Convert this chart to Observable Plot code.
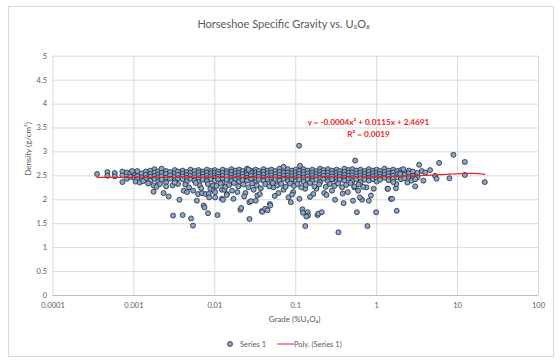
<!DOCTYPE html>
<html><head><meta charset="utf-8">
<script src="https://cdn.jsdelivr.net/npm/d3@7"></script>
<script src="https://cdn.jsdelivr.net/npm/@observablehq/plot@0.6"></script>
<style>
html,body{margin:0;padding:0;background:#fff;}
#wrap{position:relative;width:560px;height:364px;font-family:Lato,sans-serif;color:#595959;}
#border{position:absolute;left:8px;top:6px;width:546px;height:351px;border:1px solid #d9d9d9;box-sizing:border-box;}
#chart{position:absolute;left:0;top:0;}
#legend{position:absolute;left:0;top:338px;width:560px;height:12px;font-size:7.5px;}
#legend svg{position:absolute;left:0;top:0;}
</style></head><body>
<div id="wrap"><div id="border"></div><div id="chart"></div><div id="legend"></div></div>
<script>
const titleText = "Horseshoe Specific Gravity vs. U₃O₈";
const xLabel = "Grade (%U₃O₈)";
const yLabel = "Density (g/cm³)";
const eqLine1 = "y = -0.0004x² + 0.0115x + 2.4691";
const eqLine2 = "R² = 0.0019";
const legendLabels = ["Series 1", "Poly. (Series 1)"];
const xTicks = [0.0001, 0.001, 0.01, 0.1, 1, 10, 100];
const xTickLabels = ["0.0001", "0.001", "0.01", "0.1", "1", "10", "100"];
const yTicks = [0, 0.5, 1, 1.5, 2, 2.5, 3, 3.5, 4, 4.5, 5];
const yTickLabels = ["0", "0.5", "1", "1.5", "2", "2.5", "3", "3.5", "4", "4.5", "5"];
const trendCoef = [-0.0004, 0.0115, 2.4691]; // y = a x^2 + b x + c (from chart label)

// Dense main band: grade columns and the densities read in each column
const bandGrade = [
 0.00100,0.00110,0.00125,0.00140,0.00160,0.00180,0.00200,0.00220,0.00250,0.00280,
 0.00320,0.00350,0.00400,0.00450,0.00500,0.00560,0.00630,0.00710,0.00800,0.00900,
 0.0100,0.0110,0.0125,0.0140,0.0160,0.0180,0.0200,0.0220,0.0250,0.0280,
 0.0320,0.0350,0.0400,0.0450,0.0500,0.0560,0.0630,0.0710,0.0800,0.0900,
 0.100,0.110,0.125,0.140,0.160,0.180,0.200,0.220,0.250,0.280,
 0.320,0.350,0.400,0.450,0.500,0.560,0.630,0.710,0.800,0.900,
 1.00,1.10,1.25,1.40,1.60,1.80,2.00,2.20,2.50,2.80,3.20
];
const bandDensity = [
 [2.58,2.52,2.46],[2.60,2.49,2.43],[2.55,2.47,2.41],[2.59,2.52,2.45],[2.61,2.54,2.48,2.40],
 [2.64,2.57,2.50,2.44],[2.59,2.53,2.47,2.38],[2.65,2.56,2.49,2.42],[2.60,2.54,2.46,2.36],[2.58,2.51,2.44],
 [2.62,2.55,2.48,2.41],[2.59,2.52,2.45,2.33],[2.61,2.55,2.49,2.43],[2.58,2.52,2.46,2.38],[2.63,2.56,2.50,2.44],
 [2.60,2.53,2.47,2.40],[2.62,2.57,2.51,2.45,2.37],[2.59,2.54,2.48,2.42],[2.63,2.57,2.51,2.45,2.39],[2.60,2.55,2.49,2.43],
 [2.62,2.57,2.51,2.46,2.40],[2.59,2.54,2.48,2.43],[2.63,2.56,2.50,2.44,2.36],[2.60,2.55,2.49,2.42],[2.64,2.58,2.52,2.46,2.39],
 [2.61,2.55,2.49,2.43],[2.63,2.57,2.51,2.45,2.38],[2.60,2.54,2.48,2.41],[2.65,2.58,2.52,2.46,2.40],[2.61,2.56,2.50,2.44],
 [2.63,2.57,2.51,2.45,2.37],[2.60,2.54,2.48,2.42],[2.64,2.58,2.52,2.46,2.40],[2.61,2.55,2.49,2.43],[2.63,2.57,2.51,2.45,2.38],
 [2.60,2.54,2.48,2.42],[2.65,2.58,2.52,2.46,2.40],[2.62,2.56,2.50,2.44],[2.64,2.57,2.51,2.45,2.39],[2.61,2.55,2.49,2.43],
 [2.63,2.57,2.51,2.45,2.39],[2.60,2.54,2.48,2.42],[2.64,2.58,2.52,2.46,2.38],[2.61,2.55,2.49,2.43],[2.63,2.57,2.51,2.45,2.40],
 [2.60,2.54,2.48,2.42],[2.65,2.58,2.52,2.46,2.37],[2.62,2.56,2.50,2.44],[2.64,2.57,2.51,2.45,2.39],[2.61,2.55,2.49,2.43],
 [2.63,2.57,2.51,2.45,2.38],[2.60,2.54,2.48,2.42],[2.65,2.58,2.52,2.46,2.40],[2.62,2.56,2.50,2.44],[2.64,2.57,2.51,2.45,2.39],
 [2.61,2.55,2.49,2.43],[2.63,2.57,2.51,2.45,2.37],[2.60,2.54,2.48,2.42],[2.64,2.58,2.52,2.46,2.40],[2.61,2.55,2.49,2.43],
 [2.63,2.57,2.51,2.45,2.38],[2.60,2.54,2.48,2.42],[2.65,2.58,2.52,2.46],[2.61,2.55,2.49,2.41],[2.63,2.57,2.50,2.44],
 [2.60,2.53,2.47],[2.62,2.56,2.49,2.43],[2.58,2.52,2.45],[2.61,2.55,2.48],[2.59,2.50,2.44],[2.56,2.47]
];
// Individual scattered samples
const scatterGrade = [
 0.00035,0.00047,0.00047,0.00058,0.00058,0.00072,0.00072,0.00072,0.00082,0.00082,
 0.00090,0.00090,0.00095,0.00105,0.00118,0.00130,0.00150,0.00175,0.00175,0.00190,
 0.00210,0.00233,0.00250,0.00269,0.00300,0.00305,0.00365,0.00400,0.00412,0.00454,
 0.00480,0.00508,0.00537,0.00540,0.00600,0.00620,0.00650,0.00695,0.00728,0.00745,
 0.00770,0.00824,0.00840,0.00850,0.00880,0.00950,0.00970,0.01010,0.01010,0.01080,
 0.01220,0.01220,0.01260,0.01310,0.01410,0.01630,0.01700,0.01900,0.02070,0.02120,
 0.02390,0.02610,0.02670,0.02680,0.02800,0.03020,0.03360,0.03810,0.03860,0.04180,
 0.04490,0.04790,0.04840,0.05290,0.06110,0.07070,0.07070,0.08130,0.08680,0.09300,
 0.1100,0.1130,0.1110,0.1210,0.1230,0.1310,0.1310,0.1410,0.1420,0.1350,
 0.1650,0.1860,0.1900,0.2100,0.1800,0.2250,0.2800,0.3060,0.3370,0.3900,
 0.4400,0.5100,0.5300,0.5430,0.5690,0.5900,0.6600,0.7690,0.7500,0.8500,
 0.8000,0.9860,0.9200,1.3600,1.3800,1.5000,1.5500,1.7300,1.7500,1.7700,
 2.1400,1.9500,2.9900,3.3500,3.6100,3.7800,3.9800,4.5700,5.2700,5.5000,
 5.9100,7.9300,8.8800,12.300,12.300,21.700,1.6000,2.4000,2.7000,3.0000,
 0.0032,0.0043,0.0058,0.0068,0.0082,0.0105,0.0118,0.0135,0.0150,0.0172,
 0.0195,0.0225,0.0260,0.0290,0.0330,0.0370,0.0420,0.0470,0.0520,0.0590,
 0.0660,0.0750,0.0850,0.0950,0.1050,0.1170,0.1330,0.1500,0.1700,0.1950,
 0.2350,0.2650,0.3000,0.3350,0.3750,0.4200,0.4750,0.5300,0.6000,0.6800,
 0.0140,0.0230,0.0360,0.0550,0.0900,0.1500,0.2400,0.3800,0.6200,0.0320
];
const scatterDensity = [
 2.54,2.58,2.50,2.56,2.49,2.59,2.51,2.37,2.57,2.44,
 2.55,2.48,2.60,2.38,2.36,2.39,2.34,2.30,2.17,2.27,
 2.33,2.14,2.28,2.07,2.30,1.67,2.00,1.68,2.19,2.16,
 2.26,1.61,1.46,2.19,1.98,2.12,2.30,2.14,1.88,1.84,
 2.12,1.72,2.12,2.05,2.23,2.30,2.19,2.16,2.05,1.68,
 2.21,2.02,2.00,2.21,2.12,2.19,2.02,2.16,1.79,1.83,
 2.14,2.63,1.95,1.60,1.97,2.21,2.09,1.76,1.75,1.81,
 1.78,1.91,1.88,2.26,2.14,2.21,2.69,2.05,1.95,2.16,
 3.13,2.71,2.02,1.80,1.73,1.45,2.23,1.74,1.67,1.65,
 2.12,1.68,1.71,1.74,2.23,2.14,2.19,2.00,1.32,1.93,
 2.16,1.98,2.26,2.82,1.74,2.19,2.00,1.45,2.26,2.09,
 1.98,1.74,2.23,2.23,2.23,2.02,2.02,2.24,2.33,1.77,
 2.64,2.54,2.28,2.73,2.60,2.40,2.57,2.62,2.50,2.44,
 2.77,2.45,2.94,2.79,2.52,2.37,2.37,2.36,2.40,2.43,
 2.36,2.32,2.35,2.24,2.33,2.29,2.34,2.27,2.31,2.35,
 2.28,2.32,2.26,2.34,2.30,2.24,2.33,2.28,2.35,2.30,
 2.33,2.27,2.34,2.29,2.33,2.26,2.31,2.35,2.28,2.32,
 2.27,2.33,2.29,2.34,2.26,2.31,2.35,2.28,2.32,2.27,
 2.10,2.07,2.12,2.08,2.11,2.06,2.10,2.13,2.05,1.98
];

const pts = [];
bandGrade.forEach((g, i) => bandDensity[i].forEach(d => pts.push({grade: g, density: d})));
scatterGrade.forEach((g, i) => pts.push({grade: g, density: scatterDensity[i]}));

const gMin = d3.min(pts, d => d.grade), gMax = d3.max(pts, d => d.grade);
const trend = d3.range(0, 241).map(i => {
  const g = gMin * Math.pow(gMax / gMin, i / 240);
  return {grade: g, density: trendCoef[0] * g * g + trendCoef[1] * g + trendCoef[2]};
});

const ML = 52.5, MR = 22, MT = 55.7, MB = 69;
const W = 560, H = 364;
const frameCx = ML + (W - ML - MR) / 2;
const frameBottom = H - MB;

const chart = Plot.plot({
  width: W, height: H,
  marginLeft: ML, marginRight: MR, marginTop: MT, marginBottom: MB,
  style: {fontFamily: "Lato, sans-serif", color: "#595959", background: "transparent", overflow: "visible"},
  x: {type: "log", domain: [0.0001, 100]},
  y: {domain: [0, 5]},
  marks: [
    Plot.gridX(xTicks, {stroke: "#d9d9d9", strokeOpacity: 1}),
    Plot.gridY(yTicks, {stroke: "#d9d9d9", strokeOpacity: 1}),
    Plot.ruleY([0], {stroke: "#bfbfbf"}),
    Plot.axisX({ticks: xTicks, tickFormat: d => xTickLabels[xTicks.indexOf(d)], tickSize: 0, tickPadding: 7, label: null, fontSize: 7.5, fill: "#595959"}),
    Plot.axisY({ticks: yTicks, tickFormat: d => yTickLabels[yTicks.indexOf(d)], tickSize: 0, tickPadding: 6, label: null, fontSize: 7.5, fill: "#595959"}),
    Plot.dot(pts, {x: "grade", y: "density", r: 2.5, fill: "#8ea6c6", stroke: "#1d2b3b", strokeWidth: 0.8}),
    Plot.line(trend, {x: "grade", y: "density", stroke: "#e3242b", strokeWidth: 1.2}),
    Plot.text([titleText], {text: d => d, frameAnchor: "top", dx: 283 - frameCx, dy: 20 - MT, fontSize: 11, fill: "#595959"}),
    Plot.text([xLabel], {text: d => d, frameAnchor: "bottom", dx: 294 - frameCx, dy: 321 - frameBottom, fontSize: 8, fill: "#595959"}),
    Plot.text([yLabel], {text: d => d, frameAnchor: "left", rotate: -90, dx: 28 - ML, dy: 0, fontSize: 8, fill: "#595959"}),
    Plot.text([eqLine1], {text: d => d, frameAnchor: "top", dx: 368 - frameCx, dy: 118.5 - MT, fontSize: 8.2, fontWeight: "bold", fill: "#ee1c25"}),
    Plot.text([eqLine2], {text: d => d, frameAnchor: "top", dx: 368 - frameCx, dy: 131 - MT, fontSize: 8.2, fontWeight: "bold", fill: "#ee1c25"})
  ]
});
document.getElementById("chart").appendChild(chart);

// legend
const lg = d3.select("#legend").append("svg").attr("width", 560).attr("height", 12);
lg.append("circle").attr("cx", 230).attr("cy", 6).attr("r", 2.5).attr("fill", "#8ea6c6").attr("stroke", "#1d2b3b").attr("stroke-width", 0.8);
lg.append("text").attr("x", 240).attr("y", 6).attr("dy", "0.35em").attr("font-size", 7.5).attr("fill", "#595959").attr("font-family", "Lato, sans-serif").text(legendLabels[0]);
lg.append("line").attr("x1", 277).attr("x2", 294).attr("y1", 6).attr("y2", 6).attr("stroke", "#e3242b").attr("stroke-width", 1);
lg.append("text").attr("x", 294).attr("y", 6).attr("dy", "0.35em").attr("font-size", 7.5).attr("fill", "#595959").attr("font-family", "Lato, sans-serif").text(legendLabels[1]);
</script>
</body></html>
